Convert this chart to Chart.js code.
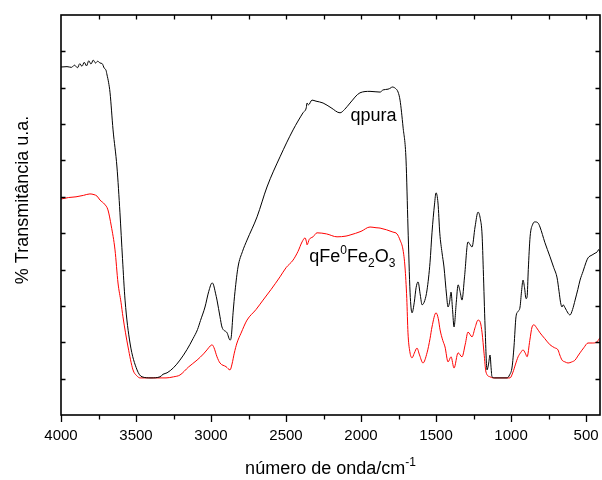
<!DOCTYPE html>
<html>
<head>
<meta charset="utf-8">
<script src="https://cdn.jsdelivr.net/npm/chart.js@4"></script>
<style>
  body { margin: 0; background: #fff; }
</style>
</head>
<body>
<canvas id="chart" width="602" height="480"></canvas>
<script>
// Tick labels / positions
const xTicks = [4000, 3500, 3000, 2500, 2000, 1500, 1000, 500];
const xMinorTicks = [3750, 3250, 2750, 2250, 1750, 1250, 750];
const xTopTicks = [3750, 3500, 3250, 3000, 2750, 2500, 2250, 2000, 1750, 1500, 1250, 1000, 750, 500];
const yTicks = [10, 20, 30, 40, 50, 60, 70, 80, 90, 100];

// qpura (black)
const wnPura = [4000, 3960, 3930, 3910, 3890, 3875, 3860, 3845, 3830, 3815, 3800, 3785, 3770, 3755, 3740, 3725, 3712, 3700, 3693, 3683,
  3673, 3653, 3627, 3607, 3590, 3573, 3540, 3493, 3460, 3400, 3340, 3320, 3293, 3250, 3207, 3160, 3120, 3090, 3070, 3040,
  3015, 2993, 2985, 2970, 2960, 2940, 2927, 2893, 2873, 2865, 2853, 2840, 2820, 2790, 2760, 2693, 2627, 2540, 2453, 2387,
  2365, 2360, 2350, 2327, 2300, 2253, 2200, 2140, 2110, 2073, 2007, 1940, 1873, 1853, 1820, 1800, 1793, 1770, 1753, 1740,
  1720, 1700, 1687, 1673, 1660, 1645, 1633, 1620, 1605, 1593, 1575, 1560, 1540, 1527, 1510, 1500, 1487, 1475, 1460, 1447,
  1430, 1420, 1410, 1400, 1390, 1380, 1365, 1353, 1340, 1327, 1310, 1287, 1275, 1260, 1240, 1220, 1205, 1193, 1185, 1173,
  1160, 1150, 1140, 1133, 1127, 1107, 1027, 1010, 993, 980, 967, 953, 940, 930, 920, 910, 900, 893, 885, 873,
  855, 840, 820, 807, 775, 740, 715, 693, 680, 670, 660, 653, 640, 620, 607, 590, 573, 555, 540, 520,
  500, 487, 460, 440, 427, 415, 407, 400];
const tPura = [95.7, 95.8, 95.6, 96.2, 95.5, 96.6, 95.9, 97.0, 96.0, 97.4, 96.5, 97.6, 96.8, 97.3, 96.8, 96.6, 95.4, 94.8, 93.5, 91.5,
  88.6, 78.4, 68.2, 55.6, 43.0, 31.6, 19.8, 12.4, 10.5, 10.2, 10.5, 11.2, 11.6, 13.0, 15.1, 18.0, 21.0, 23.5, 26.0, 29.7,
  34.0, 36.3, 36.0, 33.5, 31.6, 27.0, 24.2, 22.6, 20.6, 21.5, 28.1, 34.0, 40.7, 45.0, 48.1, 54.5, 62.7, 71.0, 78.4, 83.1,
  84.5, 85.8, 85.3, 86.6, 86.3, 85.8, 84.5, 83.1, 84.0, 85.8, 88.6, 89.0, 88.8, 89.4, 89.6, 90.0, 90.2, 89.8, 88.8, 86.6,
  79.2, 70.1, 51.7, 33.6, 28.1, 31.0, 35.0, 36.6, 33.0, 30.3, 31.5, 34.4, 42.0, 50.1, 58.0, 61.1, 58.3, 50.0, 44.6, 40.7,
  33.0, 29.7, 31.0, 33.8, 29.0, 24.2, 31.0, 35.8, 34.0, 31.6, 38.0, 47.6, 47.0, 46.2, 51.7, 55.8, 54.0, 49.5, 40.0, 24.2,
  12.4, 14.0, 16.5, 13.0, 10.5, 10.2, 10.2, 11.0, 13.2, 19.0, 27.0, 28.5, 29.7, 34.0, 37.1, 35.0, 32.0, 32.5, 40.0, 49.0,
  52.5, 53.1, 52.8, 51.7, 47.5, 43.5, 40.5, 37.7, 34.0, 31.0, 29.7, 30.3, 29.5, 28.0, 27.5, 29.0, 31.6, 34.5, 37.1, 39.5,
  42.0, 43.2, 44.0, 44.5, 44.8, 45.5, 44.6, 45.0];

// qFe0Fe2O3 (red)
const wnFe = [4000, 3950, 3900, 3850, 3807, 3780, 3760, 3740, 3710, 3687, 3665, 3640, 3620, 3600, 3587, 3553, 3520, 3495, 3473, 3300,
  3250, 3207, 3150, 3093, 3050, 3027, 3005, 2993, 2980, 2960, 2940, 2900, 2873, 2860, 2845, 2827, 2800, 2760, 2700, 2653,
  2600, 2540, 2500, 2453, 2420, 2393, 2373, 2365, 2360, 2345, 2320, 2293, 2230, 2160, 2100, 2073, 2000, 1940, 1900, 1873,
  1787, 1760, 1740, 1720, 1707, 1695, 1687, 1675, 1660, 1645, 1627, 1610, 1587, 1560, 1540, 1527, 1500, 1485, 1473, 1455,
  1440, 1420, 1400, 1380, 1353, 1327, 1305, 1287, 1260, 1240, 1220, 1205, 1193, 1180, 1167, 1140, 1120, 1007, 987, 970,
  953, 935, 920, 905, 893, 875, 860, 847, 830, 807, 775, 740, 710, 687, 675, 660, 640, 620, 595, 573,
  555, 540, 515, 487, 455, 427, 415, 407, 400];
const tFe = [59.4, 59.8, 60.0, 60.4, 60.8, 60.6, 60.2, 59.1, 58.0, 56.4, 52.0, 45.4, 36.3, 31.0, 27.0, 18.7, 12.4, 10.8, 10.2, 10.2,
  10.5, 11.0, 13.2, 15.1, 16.8, 17.9, 19.0, 19.3, 18.5, 16.0, 14.3, 13.3, 12.4, 14.0, 17.0, 19.8, 22.5, 26.1, 29.0, 31.6,
  34.5, 38.0, 40.5, 42.6, 45.0, 47.6, 48.7, 47.8, 46.8, 48.3, 49.0, 50.1, 49.8, 49.0, 49.2, 49.5, 50.5, 51.7, 51.5, 51.4,
  50.3, 49.8, 48.1, 45.4, 40.7, 32.0, 22.6, 17.5, 15.7, 17.0, 18.4, 16.5, 14.3, 17.1, 21.0, 24.2, 28.1, 26.5, 23.4, 20.5,
  18.7, 14.6, 16.0, 12.9, 17.1, 16.0, 19.5, 22.8, 21.5, 24.0, 26.1, 25.5, 22.6, 17.0, 11.8, 10.5, 10.2, 10.2, 11.8, 14.0,
  16.0, 17.2, 17.9, 17.0, 16.0, 20.5, 24.2, 24.8, 24.0, 22.6, 21.0, 19.3, 18.5, 17.9, 16.5, 15.1, 14.6, 14.3, 14.6, 15.1,
  16.2, 17.1, 18.5, 19.8, 19.8, 20.1, 20.8, 21.2, 21.0];

const FONT = '"Liberation Sans", Arial, sans-serif';

// draw a run of text pieces: [text, 'n' | 'sup' | 'sub']
function drawRich(ctx, x, y, parts, size, small) {
    let cx = x;
    parts.forEach(([txt, kind]) => {
        let dy = 0;
        let fs = size;
        if (kind === 'sup') { fs = small; dy = -size * 0.42; }
        if (kind === 'sub') { fs = small; dy = size * 0.25; }
        ctx.font = fs + 'px ' + FONT;
        ctx.fillText(txt, cx, y + dy);
        cx += ctx.measureText(txt).width;
    });
    return cx - x;
}

function measureRich(ctx, parts, size, small) {
    let w = 0;
    parts.forEach(([txt, kind]) => {
        ctx.font = (kind === 'n' ? size : small) + 'px ' + FONT;
        w += ctx.measureText(txt).width;
    });
    return w;
}

const framePlugin = {
    id: 'frame',
    afterDraw(chart) {
        const { ctx, chartArea: a, scales } = chart;
        const xs = scales.x, ys = scales.y;
        ctx.save();
        ctx.strokeStyle = '#000';
        ctx.fillStyle = '#000';

        // frame
        ctx.lineWidth = 1.6;
        ctx.strokeRect(a.left, a.top, a.right - a.left, a.bottom - a.top);

        ctx.lineWidth = 1.3;
        ctx.beginPath();
        // bottom ticks, outward
        xTicks.forEach(v => {
            const px = Math.round(xs.getPixelForValue(v)) + 0.5;
            ctx.moveTo(px, a.bottom); ctx.lineTo(px, a.bottom + 7);
        });
        xMinorTicks.forEach(v => {
            const px = Math.round(xs.getPixelForValue(v)) + 0.5;
            ctx.moveTo(px, a.bottom); ctx.lineTo(px, a.bottom + 4.5);
        });
        // top ticks, inward
        xTopTicks.forEach(v => {
            const px = Math.round(xs.getPixelForValue(v)) + 0.5;
            ctx.moveTo(px, a.top); ctx.lineTo(px, a.top + 4.5);
        });
        // left and right ticks, inward
        yTicks.forEach(v => {
            const py = Math.round(ys.getPixelForValue(v)) + 0.5;
            ctx.moveTo(a.left, py); ctx.lineTo(a.left + 4.5, py);
            ctx.moveTo(a.right, py); ctx.lineTo(a.right - 4.5, py);
        });
        ctx.stroke();

        // curve labels
        ctx.textAlign = 'left';
        ctx.textBaseline = 'alphabetic';
        drawRich(ctx, xs.getPixelForValue(2070), 121, [['qpura', 'n']], 18, 12);
        drawRich(ctx, xs.getPixelForValue(2345), 262,
            [['qFe', 'n'], ['0', 'sup'], ['Fe', 'n'], ['2', 'sub'], ['O', 'n'], ['3', 'sub']], 18, 12);

        // x axis title
        const xParts = [['número de onda/cm', 'n'], ['-1', 'sup']];
        const w = measureRich(ctx, xParts, 18, 12);
        drawRich(ctx, (a.left + a.right) / 2 - w / 2, 474, xParts, 18, 12);

        // y axis title
        ctx.translate(28, 200);
        ctx.rotate(-Math.PI / 2);
        ctx.textAlign = 'center';
        ctx.font = '18px ' + FONT;
        ctx.fillText('% Transmitância u.a.', 0, 0);
        ctx.restore();
    }
};

const ctx = document.getElementById('chart').getContext('2d');
new Chart(ctx, {
    type: 'line',
    data: {
        datasets: [
            {
                label: 'qpura',
                data: wnPura.map((w, i) => ({ x: w, y: tPura[i] })),
                borderColor: '#000000',
                borderWidth: 1,
                pointRadius: 0,
                cubicInterpolationMode: 'monotone'
            },
            {
                label: 'qFe0Fe2O3',
                data: wnFe.map((w, i) => ({ x: w, y: tFe[i] })),
                borderColor: '#ff0000',
                borderWidth: 1,
                pointRadius: 0,
                cubicInterpolationMode: 'monotone'
            }
        ]
    },
    options: {
        responsive: false,
        animation: false,
        devicePixelRatio: 1,
        layout: { padding: { left: 61, top: 15, right: 2, bottom: 23 } },
        plugins: {
            legend: { display: false },
            tooltip: { enabled: false }
        },
        scales: {
            x: {
                type: 'linear',
                reverse: true,
                min: 407,
                max: 4000,
                afterBuildTicks: scale => { scale.ticks = xTicks.map(v => ({ value: v })); },
                afterFit: scale => { scale.paddingLeft = 0; scale.paddingRight = 0; },
                grid: { display: false, drawTicks: false },
                border: { display: false },
                ticks: {
                    autoSkip: false,
                    maxRotation: 0,
                    padding: 12,
                    color: '#000',
                    font: { family: FONT, size: 15 },
                    callback: value => String(value)
                }
            },
            y: {
                display: false,
                min: 0,
                max: 110
            }
        }
    },
    plugins: [framePlugin]
});
</script>
</body>
</html>
